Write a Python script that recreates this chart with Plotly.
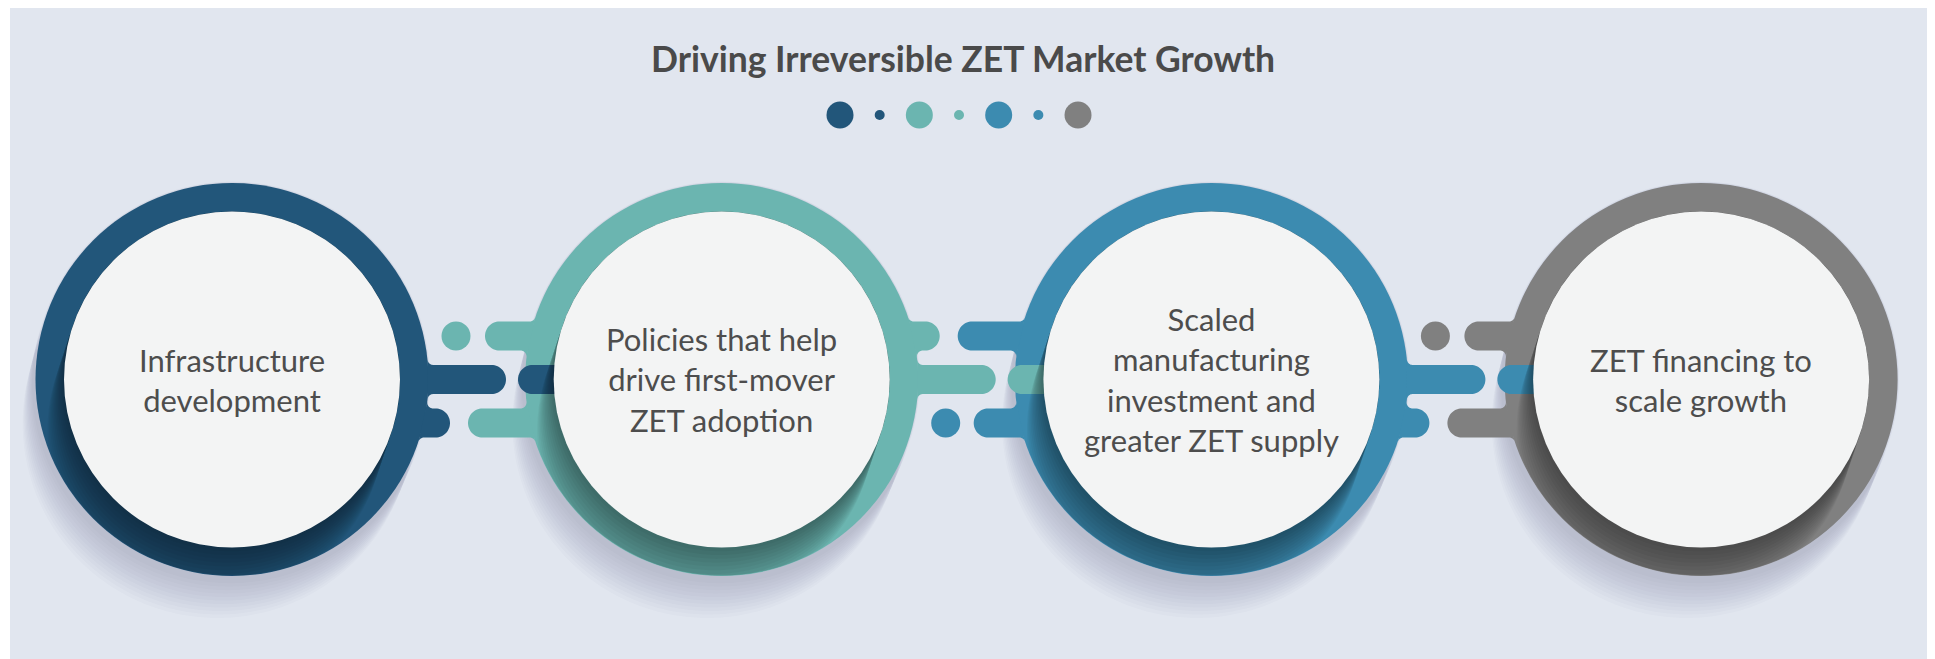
import numpy as np
import plotly.graph_objects as go

# ---------------- data ----------------
TITLE = "Driving Irreversible ZET Market Growth"
STEP_LABELS = [
    "Infrastructure<br>development",
    "Policies that help<br>drive first-mover<br>ZET adoption",
    "Scaled<br>manufacturing<br>investment and<br>greater ZET supply",
    "ZET financing to<br>scale growth",
]
STEP_COLORS = ["#22567A", "#6BB5B0", "#3C8BB0", "#808080"]
HEADER_DOT_COLORS = ["#22567A", "#22567A", "#6BB5B0", "#6BB5B0", "#3C8BB0", "#3C8BB0", "#808080"]
HEADER_DOT_SIZES = [27, 10, 27, 10, 27, 10, 27]

# ---------------- layout constants ----------------
W, H = 1935, 659
OFF = 8            # page body margin compensation
PANEL = "#E1E6EF"
INNER_FILL = "#F3F4F4"
TEXT_COLOR = "#4D4D4D"
TITLE_COLOR = "#4A4A4A"
FONT = "Lato"

CX0, CSTEP, CY = 232.0, 489.7, 379.5
R_OUT, R_IN = 196.5, 168.0
HB = 14.5          # half thickness of connector bars
RF = 6.0           # fillet radius
ROW = 43.5         # row offset
SHADOW_DIR = np.array([-1.0, 3.0]) / np.sqrt(10)

shapes = []


def to_path(xs, ys):
    s = "M %.2f,%.2f " % (xs[0], ys[0])
    s += " ".join("L %.2f,%.2f" % (x, y) for x, y in zip(xs[1:], ys[1:]))
    return s + " Z"


def add_path(xs, ys, color):
    shapes.append(dict(type="path", xref="x", yref="y", path=to_path(xs, ys),
                       fillcolor=color, line=dict(width=0), layer="above"))


def add_circle(cx, cy, r, color):
    shapes.append(dict(type="circle", xref="x", yref="y", x0=cx - r, x1=cx + r,
                       y0=cy - r, y1=cy + r, fillcolor=color, line=dict(width=0),
                       layer="above"))


def arc(cx, cy, r, a0, a1, n=14):
    t = np.linspace(a0, a1, n)
    return list(cx + r * np.cos(t)), list(cy + r * np.sin(t))


def short(a0, a1):
    d = (a1 - a0 + np.pi) % (2 * np.pi) - np.pi
    return a0, a0 + d


def attached_bar(cx, y0, side, x_end, color):
    yt, yb = y0 - HB, y0 + HB
    fyt = yt - RF
    fxt = cx + side * np.sqrt((R_OUT + RF) ** 2 - (fyt - CY) ** 2)
    a0, a1 = short(np.arctan2(CY - fyt, cx - fxt), np.pi / 2)
    xs, ys = arc(fxt, fyt, RF, a0, a1)
    xc = x_end - side * HB
    t = np.linspace(-np.pi / 2, np.pi / 2, 30)
    xs += list(xc + side * HB * np.cos(t))
    ys += list(y0 + HB * np.sin(t))
    fyb = yb + RF
    fxb = cx + side * np.sqrt((R_OUT + RF) ** 2 - (fyb - CY) ** 2)
    a0, a1 = short(-np.pi / 2, np.arctan2(CY - fyb, cx - fxb))
    bx, by = arc(fxb, fyb, RF, a0, a1)
    xs += bx
    ys += by
    add_path(xs, ys, color)


def free_bar(x_start, x_stop, y0, color):
    t = np.linspace(np.pi / 2, 3 * np.pi / 2, 30)
    xs = list(x_start + HB + HB * np.cos(t))
    ys = list(y0 + HB * np.sin(t))
    xs += [x_stop, x_stop]
    ys += [y0 - HB, y0 + HB]
    add_path(xs, ys, color)


def stadium(cx, cy, r, L, clip_r=None, n=360):
    A = np.array([cx, cy])
    v = SHADOW_DIR * L
    p = A + v / 2
    th = np.linspace(0, 2 * np.pi, n, endpoint=False)
    u = np.stack([np.cos(th), np.sin(th)], 1)
    lo = np.zeros(n)
    hi = np.full(n, r + L + 5)
    for _ in range(40):
        mid = (lo + hi) / 2
        q = p + u * mid[:, None]
        w = q - A
        s = np.clip((w @ v) / (v @ v), 0, 1)
        d = np.linalg.norm(w - s[:, None] * v, axis=1)
        inside = d <= r
        lo = np.where(inside, mid, lo)
        hi = np.where(inside, hi, mid)
    t = lo
    if clip_r is not None:
        pa = p - A
        b = u @ pa
        c = pa @ pa - clip_r ** 2
        t = np.minimum(t, -b + np.sqrt(b * b - c))
    q = p + u * t[:, None]
    return list(q[:, 0]), list(q[:, 1])


centers = [CX0 + i * CSTEP for i in range(len(STEP_LABELS))]

# panel
shapes.append(dict(type="rect", xref="x", yref="y", x0=10, x1=1930, y0=8, y1=H + 20,
                   fillcolor=PANEL, line=dict(width=0), layer="above"))

# soft drop shadows
for cx in centers:
    for L in range(6, 50, 4):
        xs, ys = stadium(cx, CY, R_OUT + 2 - L * 0.08, L)
        add_path(xs, ys, "rgba(60,75,115,0.018)")

# rings
for cx, col in zip(centers, STEP_COLORS):
    add_circle(cx, CY, R_OUT, col)

# connectors
for i in range(len(centers) - 1):
    cl, cr = centers[i], centers[i + 1]
    col_l, col_r = STEP_COLORS[i], STEP_COLORS[i + 1]
    # middle row
    attached_bar(cl, CY, +1, cl + 274, col_l)
    free_bar(cl + 286, cr - 120, CY, col_l)
    if i % 2 == 0:
        dot_row, stub_row = CY - ROW, CY + ROW
        dot_bar_start, stub_bar_start = cl + 253, cl + 236
    else:
        dot_row, stub_row = CY + ROW, CY - ROW
        dot_bar_start, stub_bar_start = cl + 252, cl + 236
    add_circle(cl + 224, dot_row, HB, col_r)
    attached_bar(cr, dot_row, -1, dot_bar_start, col_r)
    attached_bar(cl, stub_row, +1, cl + 218, col_l)
    attached_bar(cr, stub_row, -1, stub_bar_start, col_r)

# inner shadows (clipped to ring)
for cx in centers:
    for L in range(4, 56, 4):
        xs, ys = stadium(cx, CY, R_IN, L, clip_r=R_OUT - 0.5)
        add_path(xs, ys, "rgba(0,0,0,0.035)")

# inner discs
for cx in centers:
    add_circle(cx, CY, R_IN, INNER_FILL)

# header dots
for k, (col, sz) in enumerate(zip(HEADER_DOT_COLORS, HEADER_DOT_SIZES)):
    x = 840 + k * 39.67
    add_circle(x, 115, sz / 2, col)

annotations = [dict(x=962.5, y=58, xref="x", yref="y", text=TITLE, showarrow=False,
                    font=dict(family=FONT, size=35.5, color=TITLE_COLOR, weight=700),
                    xanchor="center", yanchor="middle")]
for cx, lab in zip(centers, STEP_LABELS):
    annotations.append(dict(x=cx, y=CY, xref="x", yref="y", text=lab, showarrow=False,
                            font=dict(family=FONT, size=31, color=TEXT_COLOR),
                            align="center", xanchor="center", yanchor="middle"))

fig = go.Figure()
fig.update_layout(
    width=W, height=H, margin=dict(l=0, r=0, t=0, b=0),
    paper_bgcolor="white", plot_bgcolor="white",
    xaxis=dict(range=[OFF, W + OFF], visible=False, fixedrange=True),
    yaxis=dict(range=[H + OFF, OFF], visible=False, fixedrange=True),
    shapes=shapes, annotations=annotations, showlegend=False,
)
fig.write_html("out.html", config={"displayModeBar": False})
